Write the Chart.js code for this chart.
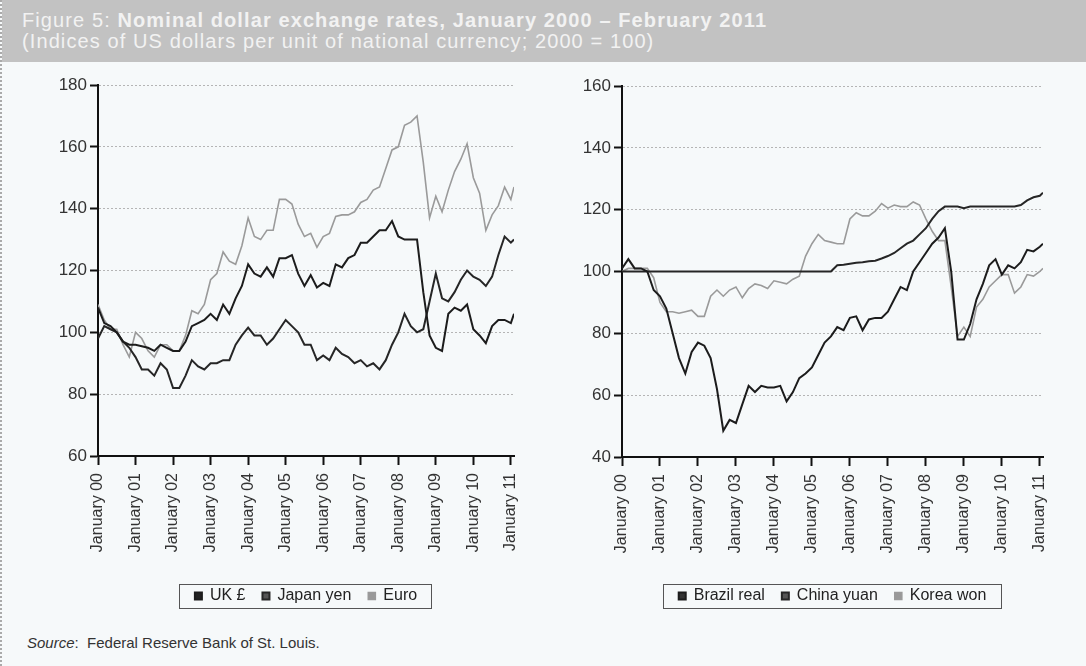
<!DOCTYPE html>
<html>
<head>
<meta charset="utf-8">
<script src="https://cdn.jsdelivr.net/npm/chart.js@4.4.1/dist/chart.umd.min.js"></script>
<style>
  body { margin: 0; background: #f6f9fa; font-family: "Liberation Sans", Arial, Helvetica, sans-serif; }
  #page { position: relative; width: 1086px; height: 666px; overflow: hidden; border-left: 2px dotted #aaa; box-sizing: border-box; }
  #band { position: absolute; left: 0; top: 0; width: 1086px; height: 62px; background: #c2c2c2; color: #f2f2f2; font-size: 20px; letter-spacing: 1.1px; line-height: 21px; padding: 10px 0 0 20px; box-sizing: border-box; }
  #band b { font-weight: bold; }
  canvas { position: absolute; }
  #source { position: absolute; left: 25px; top: 634px; font-size: 15px; color: #333; }
</style>
</head>
<body>
<div id="page">
  <div id="band">Figure 5: <b>Nominal dollar exchange rates, January 2000 – February 2011</b><br>(Indices of US dollars per unit of national currency; 2000 = 100)</div>
  <canvas id="left" width="545" height="560" style="left:0;top:60px"></canvas>
  <canvas id="right" width="541" height="560" style="left:545px;top:60px"></canvas>
  <div id="source"><i>Source</i>:&nbsp; Federal Reserve Bank of St. Louis.</div>
</div>
<script>
// months since January 2000 (every second month, last point February 2011)
const months = [0,2,4,6,8,10,12,14,16,18,20,22,24,26,28,30,32,34,36,38,40,42,44,46,48,50,52,54,56,58,60,62,64,66,68,70,72,74,76,78,80,82,84,86,88,90,92,94,96,98,100,102,104,106,108,110,112,114,116,118,120,122,124,126,128,130,132,133];

const ukPound = [108,103,102,100,97,96,96,95.5,95,94, 96,95,94,94,97,102,103,104,106,104,
  109,106,111,115,122,119,118,121,118,124, 124,125,119,115,118.5,114.5,116,115,122,121,
  124,125,129,129,131,133,133,136,131,130, 130,130,113,99,95,94,106,108,107,109,
  101,99,96.5,102,104,104,103,106];
const japanYen = [98,102,101,100,97,95,92,88,88,86, 90,88,82,82,86,91,89,88,90,90,
  91,91,96,99,101.5,99,99,96,98,101, 104,102,100,96,96,91,92.5,91,95,93,
  92,90,91,89,90,88,91,96,100,106, 102,100,101,110,119,111,110,113,117,120,
  118,117,115,118,125,131,129,130];
const euro = [109,104,101,101,96,92,100,98,94,92, 96,96,94,94,99,107,106,109,117,119,
  126,123,122,128,137,131,130,133,133,143, 143,141.5,135,131,132,127.5,131,132,137.5,138,
  138,139,142,143,146,147,153,159,160,167, 168,170,155,137,144,139,146,152,156,161,
  150,145,133,138,141,147,143,147];

const brazilReal = [101,104,101,101,100,94,92,88,80,72, 67,74,77,76,72,62,48.5,52,51,57,
  63,61,63,62.5,62.5,63,58,61,65.5,67, 69,73,77,79,82,81,85,85.5,81,84.5,
  85,85,87,91,95,94,100,103,106,109, 111,114,100,78,78,83,91,96,102,104,
  99,102,101,103,107,106.5,108,109];
const chinaYuan = [100,100,100,100,100,100,100,100,100,100, 100,100,100,100,100,100,100,100,100,100,
  100,100,100,100,100,100,100,100,100,100, 100,100,100,100,102,102.2,102.5,102.8,103,103.3,
  103.5,104.2,105,106,107.5,109,110,112,114,117, 119.5,121,121,121,120.5,121,121,121,121,121,
  121,121,121,121.5,123,124,124.5,125.5];
const koreaWon = [100,101,101,101,101,98,90,87,87,86.5, 87,87.5,85.5,85.5,92,94,92,94,95,91.5,
  94.5,96,95.5,94.5,97,96.5,96,97.5,98.5,105, 109,112,110,109.5,109,109,117,119,118,118,
  119.5,122,120.5,121.5,121,121,122.5,121.5,117,113, 110,110,95,79,82,79,88.5,91,95,97,
  99,99,93,95,99,98.5,100,101];

const yearTicks = [0,12,24,36,48,60,72,84,96,108,120,132];
const leftYTicks = [60,80,100,120,140,160,180];
const rightYTicks = [40,60,80,100,120,140,160];

const FONT = '"Liberation Sans", Arial, Helvetica, sans-serif';

function points(values) {
  return months.map((m, i) => ({ x: m, y: values[i] }));
}

function line(label, values, color, swatch, width) {
  return {
    label: label,
    data: points(values),
    borderColor: color,
    backgroundColor: swatch,
    borderWidth: width,
    pointRadius: 0,
    tension: 0,
  };
}

// draws the thin frame round the legend entries
const legendFrame = {
  id: 'legendFrame',
  afterDraw(chart) {
    const boxes = chart.legend.legendHitBoxes;
    if (!boxes || !boxes.length) return;
    let l = Infinity, r = -Infinity, t = Infinity, b = -Infinity;
    boxes.forEach(h => {
      l = Math.min(l, h.left); r = Math.max(r, h.left + h.width);
      t = Math.min(t, h.top); b = Math.max(b, h.top + h.height);
    });
    const ctx = chart.ctx;
    ctx.save();
    ctx.strokeStyle = '#555';
    ctx.lineWidth = 1;
    ctx.strokeRect(Math.round(l - 16) + 0.5, Math.round(t - 4) + 0.5, Math.round(r - l + 30), Math.round(b - t + 8));
    ctx.restore();
  }
};

function makeChart(id, datasets, yMin, yMax, yTicks, axisWidth, xHeight, pad) {
  return new Chart(document.getElementById(id), {
    type: 'line',
    data: { datasets: datasets },
    plugins: [legendFrame],
    options: {
      responsive: false,
      animation: false,
      layout: { padding: pad },
      scales: {
        x: {
          type: 'linear',
          min: 0,
          max: 133,
          afterFit: (scale) => { scale.height = xHeight; },
          afterBuildTicks: (scale) => { scale.ticks = yearTicks.map(v => ({ value: v })); },
          ticks: {
            minRotation: 90,
            maxRotation: 90,
            padding: 8,
            color: '#333',
            font: { family: FONT, size: 16 },
            callback: (v) => 'January ' + String(v / 12).padStart(2, '0'),
          },
          grid: { drawOnChartArea: false, tickLength: 9, tickColor: '#111', tickWidth: 2 },
          border: { color: '#111', width: 2 },
        },
        y: {
          min: yMin,
          max: yMax,
          afterFit: (scale) => { scale.width = axisWidth; },
          afterBuildTicks: (scale) => { scale.ticks = yTicks.map(v => ({ value: v })); },
          ticks: { padding: 3, color: '#333', font: { family: FONT, size: 17 } },
          grid: { color: '#b5b5b5', lineWidth: 1, tickLength: 8, tickColor: '#111', tickWidth: 2 },
          border: { color: '#111', width: 2, dash: [2, 2] },
        },
      },
      plugins: {
        tooltip: { enabled: false },
        legend: {
          position: 'bottom',
          fullSize: false,
          labels: {
            boxWidth: 7,
            boxHeight: 7,
            padding: 17,
            color: '#222',
            font: { family: FONT, size: 16 },
          },
        },
      },
    },
  });
}

makeChart('left', [
  line('UK £', ukPound, '#1c1c1c', '#222', 2),
  line('Japan yen', japanYen, '#262626', '#555', 2),
  line('Euro', euro, '#9a9a9a', '#999', 1.6),
], 60, 180, leftYTicks, 96, 115, { top: 25, right: 33, left: 0, bottom: 6 });

makeChart('right', [
  line('Brazil real', brazilReal, '#1c1c1c', '#333', 2),
  line('China yuan', chinaYuan, '#262626', '#555', 2),
  line('Korea won', koreaWon, '#9a9a9a', '#999', 1.6),
], 40, 160, rightYTicks, 75, 114, { top: 26, right: 45, left: 0, bottom: 6 });
</script>
</body>
</html>
